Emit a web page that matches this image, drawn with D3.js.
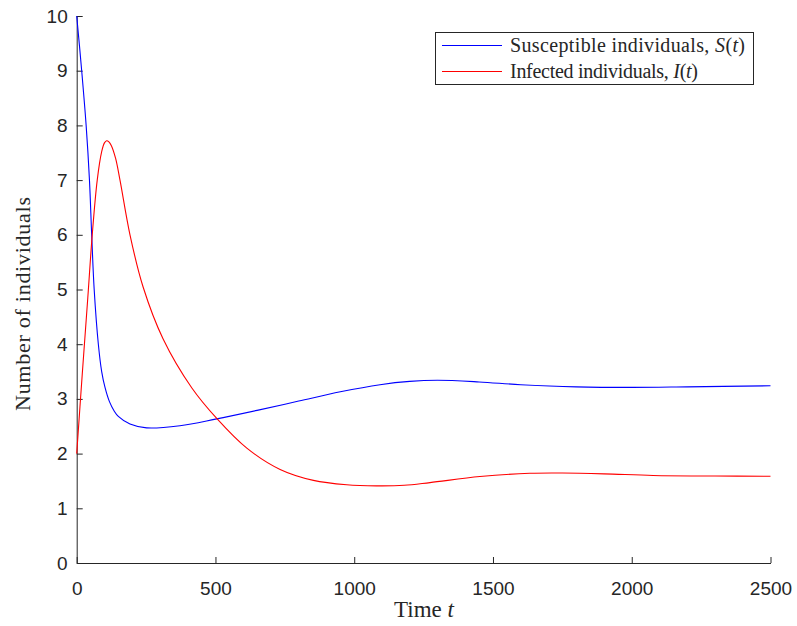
<!DOCTYPE html>
<html>
<head>
<meta charset="utf-8">
<script src="https://cdn.jsdelivr.net/npm/d3@7"></script>
<style>
  body { margin: 0; background: #fff; }
  svg { display: block; }
  .tick text { font-family: "Liberation Sans", Arial, sans-serif; font-size: 19px; fill: #262626; }
  .tex { font-family: "Liberation Serif", "DejaVu Serif", serif; fill: #262626; }
</style>
</head>
<body>
<div id="chart"></div>
<script>
// S(t)
const sTime = [0, 18, 34, 46, 54, 63, 78, 90, 102, 118, 135, 150, 192, 252, 372, 500, 650, 800, 950, 1093, 1200, 1300, 1450, 1600, 1800, 2000, 2200, 2500];
const sVals = [10, 9, 8, 7, 6, 5, 4, 3.5, 3.21, 2.95, 2.78, 2.68, 2.54, 2.47, 2.51, 2.63, 2.79, 2.96, 3.13, 3.26, 3.32, 3.34, 3.31, 3.26, 3.22, 3.21, 3.22, 3.24];

// I(t)
const iTime = [0, 20, 40, 56, 74, 90, 100, 108, 116, 125, 140, 156, 192, 239, 311, 415, 507, 613, 733, 853, 973, 1080, 1180, 1273, 1453, 1633, 1750, 1900, 2077, 2300, 2500];
const iVals = [2, 3.45, 4.85, 6, 7, 7.52, 7.68, 7.72, 7.70, 7.63, 7.4, 7.0, 6.0, 5.05, 4.1, 3.2, 2.63, 2.1, 1.71, 1.51, 1.43, 1.41, 1.42, 1.47, 1.58, 1.64, 1.645, 1.63, 1.60, 1.59, 1.585];

const xTicks = [0, 500, 1000, 1500, 2000, 2500];
const yTicks = [0, 1, 2, 3, 4, 5, 6, 7, 8, 9, 10];

const width = 797, height = 626;
const margin = { top: 16, right: 26.5, bottom: 63, left: 76.7 };
const innerW = width - margin.left - margin.right,
      innerH = height - margin.top - margin.bottom;

const svg = d3.select("#chart").append("svg")
    .attr("width", width)
    .attr("height", height);

const g = svg.append("g")
    .attr("transform", `translate(${margin.left},${margin.top})`);

const x = d3.scaleLinear().domain([0, 2500]).range([0, innerW]);
const y = d3.scaleLinear().domain([0, 10]).range([innerH, 0]);

// axes, MATLAB style: ticks pointing inward
const xAxis = g.append("g")
    .attr("transform", `translate(0,${innerH})`)
    .call(d3.axisBottom(x).tickValues(xTicks).tickSizeInner(-6).tickSizeOuter(0).tickPadding(16).tickFormat(d3.format("d")));
const yAxis = g.append("g")
    .call(d3.axisLeft(y).tickValues(yTicks).tickSizeInner(-6).tickSizeOuter(0).tickPadding(9).tickFormat(d3.format("d")));

[xAxis, yAxis].forEach(a => {
  a.select(".domain").attr("stroke", "#262626").attr("stroke-width", 1);
  a.selectAll(".tick line").attr("stroke", "#262626").attr("stroke-width", 1);
});
xAxis.selectAll(".tick text").attr("dy", "0.85em");

const line = d3.line()
    .x(d => x(d[0]))
    .y(d => y(d[1]))
    .curve(d3.curveCatmullRom.alpha(0.5));

g.append("path")
    .datum(sTime.map((t, i) => [t, sVals[i]]))
    .attr("fill", "none")
    .attr("stroke", "#0000ff")
    .attr("stroke-width", 1.1)
    .attr("d", line);

g.append("path")
    .datum(iTime.map((t, i) => [t, iVals[i]]))
    .attr("fill", "none")
    .attr("stroke", "#ff0000")
    .attr("stroke-width", 1.1)
    .attr("d", line);

// axis titles
const xt = svg.append("text").attr("class", "tex")
    .attr("x", 424).attr("y", 617)
    .attr("text-anchor", "middle")
    .style("font-size", "23px");
xt.append("tspan").text("Time ");
xt.append("tspan").attr("font-style", "italic").text("t");

svg.append("text").attr("class", "tex")
    .attr("transform", "translate(30,304) rotate(-90)")
    .attr("text-anchor", "middle")
    .attr("textLength", 214)
    .style("font-size", "22px")
    .text("Number of individuals");

// legend
const legend = svg.append("g");
legend.append("rect")
    .attr("x", 435.5).attr("y", 32.5)
    .attr("width", 318).attr("height", 52)
    .attr("fill", "#fff")
    .attr("stroke", "#262626")
    .attr("stroke-width", 1);

const entries = [
  { color: "#0000ff", label: "Susceptible individuals, ", v: "S", len: 235 },
  { color: "#ff0000", label: "Infected individuals, ", v: "I", len: 188 }
];
entries.forEach((e, i) => {
  const cy = 45.5 + i * 26;
  legend.append("line")
      .attr("x1", 442).attr("x2", 502)
      .attr("y1", cy).attr("y2", cy)
      .attr("stroke", e.color).attr("stroke-width", 1.1);
  const t = legend.append("text").attr("class", "tex")
      .attr("x", 510).attr("y", cy + 6.5)
      .attr("textLength", e.len)
      .style("font-size", "20px");
  t.append("tspan").text(e.label);
  t.append("tspan").attr("font-style", "italic").text(e.v);
  t.append("tspan").text("(");
  t.append("tspan").attr("font-style", "italic").text("t");
  t.append("tspan").text(")");
});
</script>
</body>
</html>
